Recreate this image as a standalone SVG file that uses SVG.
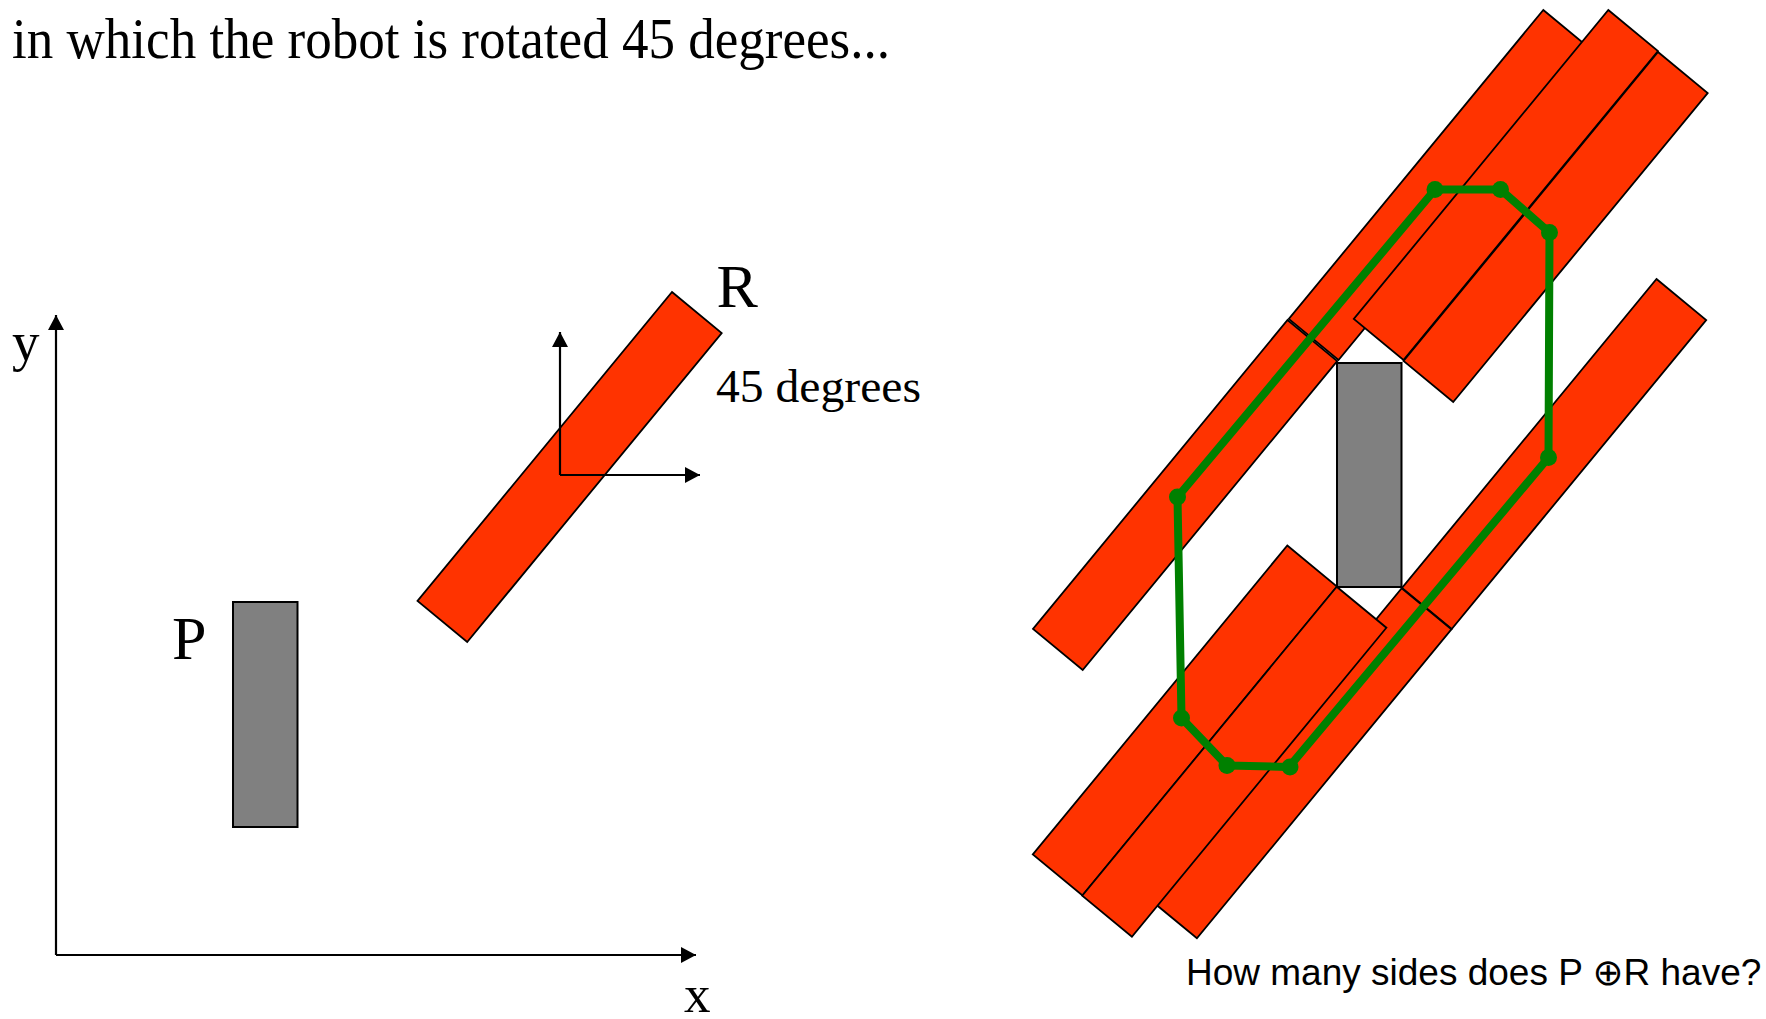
<svg xmlns="http://www.w3.org/2000/svg" xmlns:xlink="http://www.w3.org/1999/xlink" width="1766" height="1019" viewBox="0 0 1766 1019">
  <style>
    .serif { font-family: "Liberation Serif", "Times New Roman", serif; fill: #000; }
    .sans { font-family: "Liberation Sans", Arial, sans-serif; fill: #000; }
    .bar { fill: #FF3300; stroke: #000; stroke-width: 1.8; stroke-linejoin: miter; }
    .obst { fill: #808080; stroke: #000; stroke-width: 2; }
    .axis { fill: none; stroke: #000; stroke-width: 2.2; }
    .hull { fill: none; stroke: #008000; stroke-width: 8; stroke-linejoin: round; }
    .dot { fill: #008000; }
  </style>
  <defs>
    <marker id="arrow" markerUnits="userSpaceOnUse" markerWidth="15" markerHeight="16" refX="15" refY="8" orient="auto">
      <path d="M0,0 L15,8 L0,16 z" fill="#000"/>
    </marker>
    <polygon id="bar" points="0,0 49.7,41 -204.8,350 -254.5,309"/>
  </defs>

  <rect width="1766" height="1019" fill="#fff"/>

  <!-- Title text -->
  <text id="title" class="serif" x="12" y="58" font-size="56" textLength="878" lengthAdjust="spacingAndGlyphs">in which the robot is rotated 45 degrees...</text>

  <!-- Left figure -->
  <g id="connectors">
    <line class="axis" x1="56" y1="955" x2="56" y2="315" marker-end="url(#arrow)"/>
    <line class="axis" x1="56" y1="955" x2="696" y2="955" marker-end="url(#arrow)"/>
  </g>
  <text id="label-y" class="serif" x="12" y="360" font-size="55">y</text>
  <text id="label-x" class="serif" x="684" y="1012" font-size="53">x</text>

  <g id="P-left">
    <rect class="obst" x="233" y="602" width="64.5" height="225"/>
    <text class="serif" x="172" y="659" font-size="62">P</text>
  </g>

  <g id="R-left">
    <use xlink:href="#bar" href="#bar" class="bar" transform="translate(672,292)"/>
    <text class="serif" x="716.5" y="307" font-size="62">R</text>
  </g>

  <g id="R-frame">
    <line class="axis" x1="560" y1="475" x2="560" y2="332" marker-end="url(#arrow)"/>
    <line class="axis" x1="560" y1="475" x2="700" y2="475" marker-end="url(#arrow)"/>
    <text class="serif" x="716" y="402" font-size="47" textLength="205" lengthAdjust="spacingAndGlyphs">45 degrees</text>
  </g>

  <!-- Right figure: copies of R around P -->
  <g id="bars-right">
    <use xlink:href="#bar" href="#bar" class="bar" transform="translate(1543.3,10)"/>
    <use xlink:href="#bar" href="#bar" class="bar" transform="translate(1608.3,10)"/>
    <use xlink:href="#bar" href="#bar" class="bar" transform="translate(1658,52)"/>
    <use xlink:href="#bar" href="#bar" class="bar" transform="translate(1287.5,320)"/>
    <use xlink:href="#bar" href="#bar" class="bar" transform="translate(1656.5,279)"/>
    <use xlink:href="#bar" href="#bar" class="bar" transform="translate(1401.7,588.3)"/>
    <use xlink:href="#bar" href="#bar" class="bar" transform="translate(1287.3,545.5)"/>
    <use xlink:href="#bar" href="#bar" class="bar" transform="translate(1336.7,586.7)"/>
  </g>

  <g id="P-right">
    <rect class="obst" x="1337" y="363" width="64.5" height="224"/>
  </g>

  <g id="hull">
    <polygon class="hull" points="1435,189.5 1500.5,189.5 1549.5,232.5 1548.5,457.5 1289,767 1227,765.5 1181.5,718 1177.5,497"/>
    <circle class="dot" cx="1435" cy="189.5" r="8.5"/>
    <circle class="dot" cx="1500.5" cy="189.5" r="8.5"/>
    <circle class="dot" cx="1549.5" cy="232.5" r="8.5"/>
    <circle class="dot" cx="1548.5" cy="457.5" r="8.5"/>
    <circle class="dot" cx="1290" cy="767" r="8.5"/>
    <circle class="dot" cx="1227" cy="765.5" r="8.5"/>
    <circle class="dot" cx="1181.5" cy="718" r="8.5"/>
    <circle class="dot" cx="1177.5" cy="497" r="8.5"/>
  </g>

  <text id="question" class="sans" x="1186" y="985" font-size="37">How many sides does P <tspan font-family="DejaVu Sans, sans-serif">⊕</tspan>R have?</text>
</svg>
